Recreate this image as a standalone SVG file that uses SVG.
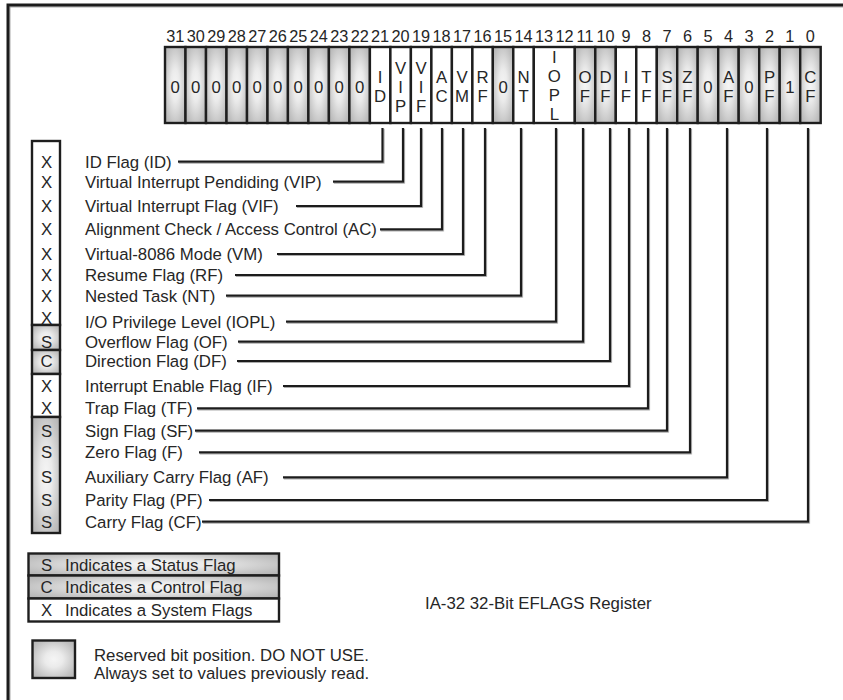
<svg xmlns="http://www.w3.org/2000/svg" width="843" height="700" viewBox="0 0 843 700">
<defs>
<radialGradient id="gray" cx="0.5" cy="0.5" r="0.7">
<stop offset="0" stop-color="#f5f5f5"/>
<stop offset="0.3" stop-color="#ebebeb"/>
<stop offset="0.75" stop-color="#c2c2c2"/>
<stop offset="1" stop-color="#b0b0b0"/>
</radialGradient>
<filter id="sh" x="-5%" y="-5%" width="110%" height="110%">
<feDropShadow dx="0.8" dy="0.8" stdDeviation="0.3" flood-color="#8a8a8a" flood-opacity="0.9"/>
</filter>
</defs>
<style>
text{font-family:"Liberation Sans",Arial,Helvetica,sans-serif;fill:#262626}
.num{font-size:16.3px;text-anchor:middle}
.cl{font-size:16.8px;text-anchor:middle}
.lb{font-size:16.8px}
.g{fill:url(#gray);stroke:#1e1e1e;stroke-width:2.4}
.w{fill:#fff;stroke:#1e1e1e;stroke-width:2.4}
.bx{stroke:#1e1e1e;stroke-width:2.4}
.conn path{fill:none;stroke:#1c1c1c;stroke-width:2.2}
</style>
<rect width="843" height="700" fill="#fff"/>
<path d="M8,700 V5 H843" fill="none" stroke="#1a1a1a" stroke-width="3" filter="url(#sh)"/>

<g id="bit-numbers">
<text class="num" x="175.2" y="42">31</text><text class="num" x="195.7" y="42">30</text><text class="num" x="216.2" y="42">29</text><text class="num" x="236.7" y="42">28</text><text class="num" x="257.2" y="42">27</text><text class="num" x="277.7" y="42">26</text><text class="num" x="298.2" y="42">25</text><text class="num" x="318.7" y="42">24</text><text class="num" x="339.2" y="42">23</text><text class="num" x="359.7" y="42">22</text><text class="num" x="380.1" y="42">21</text><text class="num" x="400.6" y="42">20</text><text class="num" x="421.1" y="42">19</text><text class="num" x="441.6" y="42">18</text><text class="num" x="462.1" y="42">17</text><text class="num" x="482.6" y="42">16</text><text class="num" x="503.1" y="42">15</text><text class="num" x="523.6" y="42">14</text><text class="num" x="544.1" y="42">13</text><text class="num" x="564.6" y="42">12</text><text class="num" x="585.0" y="42">11</text><text class="num" x="605.5" y="42">10</text><text class="num" x="626.0" y="42">9</text><text class="num" x="646.5" y="42">8</text><text class="num" x="667.0" y="42">7</text><text class="num" x="687.5" y="42">6</text><text class="num" x="708.0" y="42">5</text><text class="num" x="728.5" y="42">4</text><text class="num" x="749.0" y="42">3</text><text class="num" x="769.5" y="42">2</text><text class="num" x="789.9" y="42">1</text><text class="num" x="810.4" y="42">0</text>
</g>

<g id="register">
<g id="bit31"><rect class="g" x="165.0" y="47" width="20.5" height="76"/><text class="cl" x="175.2" y="92.5">0</text></g>
<g id="bit30"><rect class="g" x="185.5" y="47" width="20.5" height="76"/><text class="cl" x="195.7" y="92.5">0</text></g>
<g id="bit29"><rect class="g" x="206.0" y="47" width="20.5" height="76"/><text class="cl" x="216.2" y="92.5">0</text></g>
<g id="bit28"><rect class="g" x="226.5" y="47" width="20.5" height="76"/><text class="cl" x="236.7" y="92.5">0</text></g>
<g id="bit27"><rect class="g" x="247.0" y="47" width="20.5" height="76"/><text class="cl" x="257.2" y="92.5">0</text></g>
<g id="bit26"><rect class="g" x="267.5" y="47" width="20.5" height="76"/><text class="cl" x="277.7" y="92.5">0</text></g>
<g id="bit25"><rect class="g" x="287.9" y="47" width="20.5" height="76"/><text class="cl" x="298.2" y="92.5">0</text></g>
<g id="bit24"><rect class="g" x="308.4" y="47" width="20.5" height="76"/><text class="cl" x="318.7" y="92.5">0</text></g>
<g id="bit23"><rect class="g" x="328.9" y="47" width="20.5" height="76"/><text class="cl" x="339.2" y="92.5">0</text></g>
<g id="bit22"><rect class="g" x="349.4" y="47" width="20.5" height="76"/><text class="cl" x="359.7" y="92.5">0</text></g>
<g id="bit21-ID"><rect class="w" x="369.9" y="47" width="20.5" height="76"/><text class="cl" x="380.1" y="82.5">I</text><text class="cl" x="380.1" y="101.5">D</text></g>
<g id="bit20-VIP"><rect class="w" x="390.4" y="47" width="20.5" height="76"/><text class="cl" x="400.6" y="73.5">V</text><text class="cl" x="400.6" y="92.5">I</text><text class="cl" x="400.6" y="111.5">P</text></g>
<g id="bit19-VIF"><rect class="w" x="410.9" y="47" width="20.5" height="76"/><text class="cl" x="421.1" y="73.5">V</text><text class="cl" x="421.1" y="92.5">I</text><text class="cl" x="421.1" y="111.5">F</text></g>
<g id="bit18-AC"><rect class="w" x="431.4" y="47" width="20.5" height="76"/><text class="cl" x="441.6" y="82.5">A</text><text class="cl" x="441.6" y="101.5">C</text></g>
<g id="bit17-VM"><rect class="w" x="451.9" y="47" width="20.5" height="76"/><text class="cl" x="462.1" y="82.5">V</text><text class="cl" x="462.1" y="101.5">M</text></g>
<g id="bit16-RF"><rect class="w" x="472.4" y="47" width="20.5" height="76"/><text class="cl" x="482.6" y="82.5">R</text><text class="cl" x="482.6" y="101.5">F</text></g>
<g id="bit15"><rect class="g" x="492.8" y="47" width="20.5" height="76"/><text class="cl" x="503.1" y="92.5">0</text></g>
<g id="bit14-NT"><rect class="w" x="513.3" y="47" width="20.5" height="76"/><text class="cl" x="523.6" y="82.5">N</text><text class="cl" x="523.6" y="101.5">T</text></g>
<g id="bit13-12-IOPL"><rect class="w" x="533.8" y="47" width="41" height="76"/><text class="cl" x="554.3" y="63">I</text><text class="cl" x="554.3" y="82">O</text><text class="cl" x="554.3" y="101">P</text><text class="cl" x="554.3" y="120">L</text></g>
<g id="bit11-OF"><rect class="g" x="574.8" y="47" width="20.5" height="76"/><text class="cl" x="585.0" y="82.5">O</text><text class="cl" x="585.0" y="101.5">F</text></g>
<g id="bit10-DF"><rect class="g" x="595.3" y="47" width="20.5" height="76"/><text class="cl" x="605.5" y="82.5">D</text><text class="cl" x="605.5" y="101.5">F</text></g>
<g id="bit9-IF"><rect class="w" x="615.8" y="47" width="20.5" height="76"/><text class="cl" x="626.0" y="82.5">I</text><text class="cl" x="626.0" y="101.5">F</text></g>
<g id="bit8-TF"><rect class="w" x="636.3" y="47" width="20.5" height="76"/><text class="cl" x="646.5" y="82.5">T</text><text class="cl" x="646.5" y="101.5">F</text></g>
<g id="bit7-SF"><rect class="g" x="656.8" y="47" width="20.5" height="76"/><text class="cl" x="667.0" y="82.5">S</text><text class="cl" x="667.0" y="101.5">F</text></g>
<g id="bit6-ZF"><rect class="g" x="677.2" y="47" width="20.5" height="76"/><text class="cl" x="687.5" y="82.5">Z</text><text class="cl" x="687.5" y="101.5">F</text></g>
<g id="bit5"><rect class="g" x="697.7" y="47" width="20.5" height="76"/><text class="cl" x="708.0" y="92.5">0</text></g>
<g id="bit4-AF"><rect class="g" x="718.2" y="47" width="20.5" height="76"/><text class="cl" x="728.5" y="82.5">A</text><text class="cl" x="728.5" y="101.5">F</text></g>
<g id="bit3"><rect class="g" x="738.7" y="47" width="20.5" height="76"/><text class="cl" x="749.0" y="92.5">0</text></g>
<g id="bit2-PF"><rect class="g" x="759.2" y="47" width="20.5" height="76"/><text class="cl" x="769.5" y="82.5">P</text><text class="cl" x="769.5" y="101.5">F</text></g>
<g id="bit1"><rect class="g" x="779.7" y="47" width="20.5" height="76"/><text class="cl" x="789.9" y="92.5">1</text></g>
<g id="bit0-CF"><rect class="g" x="800.2" y="47" width="20.5" height="76"/><text class="cl" x="810.4" y="82.5">C</text><text class="cl" x="810.4" y="101.5">F</text></g>
</g>

<g id="type-column">
<rect class="bx" x="32" y="141" width="28" height="184" fill="#fff"/>
<rect class="bx" x="32" y="325" width="28" height="25" fill="url(#gray)"/>
<rect class="bx" x="32" y="350" width="28" height="24" fill="url(#gray)"/>
<rect class="bx" x="32" y="374" width="28" height="43" fill="#fff"/>
<rect class="bx" x="32" y="417" width="28" height="116" fill="url(#gray)"/>
<text class="cl" x="46.5" y="167.7">X</text>
<text class="cl" x="46.5" y="187.7">X</text>
<text class="cl" x="46.5" y="212">X</text>
<text class="cl" x="46.5" y="235.3">X</text>
<text class="cl" x="46.5" y="260">X</text>
<text class="cl" x="46.5" y="281">X</text>
<text class="cl" x="46.5" y="301.7">X</text>
<text class="cl" x="46.5" y="323.5">X</text>
<text class="cl" x="46.5" y="347.7">S</text>
<text class="cl" x="46.5" y="367">C</text>
<text class="cl" x="46.5" y="392">X</text>
<text class="cl" x="46.5" y="414">X</text>
<text class="cl" x="46.5" y="436.7">S</text>
<text class="cl" x="46.5" y="458.3">S</text>
<text class="cl" x="46.5" y="483.3">S</text>
<text class="cl" x="46.5" y="506">S</text>
<text class="cl" x="46.5" y="527.7">S</text>
</g>

<g id="labels">
<g id="lbl-ID"><text class="lb" x="85" y="167.7">ID Flag (ID)</text></g>
<g id="lbl-VIP"><text class="lb" x="85" y="187.7">Virtual Interrupt Pendiding (VIP)</text></g>
<g id="lbl-VIF"><text class="lb" x="85" y="212">Virtual Interrupt Flag (VIF)</text></g>
<g id="lbl-AC"><text class="lb" x="85" y="235.3">Alignment Check / Access Control (AC)</text></g>
<g id="lbl-VM"><text class="lb" x="85" y="260">Virtual-8086 Mode (VM)</text></g>
<g id="lbl-RF"><text class="lb" x="85" y="281">Resume Flag (RF)</text></g>
<g id="lbl-NT"><text class="lb" x="85" y="301.7">Nested Task (NT)</text></g>
<g id="lbl-IOPL"><text class="lb" x="85" y="327.7">I/O Privilege Level (IOPL)</text></g>
<g id="lbl-OF"><text class="lb" x="85" y="347.7">Overflow Flag (OF)</text></g>
<g id="lbl-DF"><text class="lb" x="85" y="367">Direction Flag (DF)</text></g>
<g id="lbl-IF"><text class="lb" x="85" y="392">Interrupt Enable Flag (IF)</text></g>
<g id="lbl-TF"><text class="lb" x="85" y="414.3">Trap Flag (TF)</text></g>
<g id="lbl-SF"><text class="lb" x="85" y="436.7">Sign Flag (SF)</text></g>
<g id="lbl-ZF"><text class="lb" x="85" y="458.3">Zero Flag (F)</text></g>
<g id="lbl-AF"><text class="lb" x="85" y="483.3">Auxiliary Carry Flag (AF)</text></g>
<g id="lbl-PF"><text class="lb" x="85" y="506">Parity Flag (PF)</text></g>
<g id="lbl-CF"><text class="lb" x="85" y="527.7">Carry Flag (CF)</text></g>
</g>

<g id="connectors" class="conn" filter="url(#sh)">
<path d="M178,161.7 H382.5 V128"/>
<path d="M333,181.7 H403 V128"/>
<path d="M296,206 H421 V128"/>
<path d="M380,229.3 H442 V128"/>
<path d="M277,254 H463 V128"/>
<path d="M235,275 H485 V128"/>
<path d="M226,295.7 H521 V128"/>
<path d="M286,321.7 H556 V128"/>
<path d="M238,341.7 H583 V128"/>
<path d="M237,361 H610 V128"/>
<path d="M283,386 H629 V128"/>
<path d="M197,408.3 H648 V128"/>
<path d="M195,430.7 H667 V128"/>
<path d="M199,452.3 H690 V128"/>
<path d="M283,477.3 H727 V128"/>
<path d="M209,500 H767 V128"/>
<path d="M202,521.7 H808 V128"/>
</g>

<g id="legend">
<rect class="bx" x="28.5" y="553.5" width="250.5" height="22" fill="url(#gray)"/>
<rect class="bx" x="28.5" y="575.5" width="250.5" height="23" fill="url(#gray)"/>
<rect class="bx" x="28.5" y="598.5" width="250.5" height="23" fill="#fff"/>
<text class="cl" x="46.5" y="570.5">S</text><text class="lb" x="65" y="570.5">Indicates a Status Flag</text>
<text class="cl" x="46.5" y="593">C</text><text class="lb" x="65" y="593">Indicates a Control Flag</text>
<text class="cl" x="46.5" y="616">X</text><text class="lb" x="65" y="616">Indicates a System Flags</text>
</g>

<g id="reserved-key">
<rect class="bx" x="32.5" y="640.5" width="42.5" height="37.5" fill="url(#gray)"/>
<text class="lb" x="94" y="661">Reserved bit position. DO NOT USE.</text>
<text class="lb" x="94" y="678.5">Always set to values previously read.</text>
</g>

<g id="caption">
<text class="lb" x="425" y="608.5">IA-32 32-Bit EFLAGS Register</text>
</g>
</svg>
